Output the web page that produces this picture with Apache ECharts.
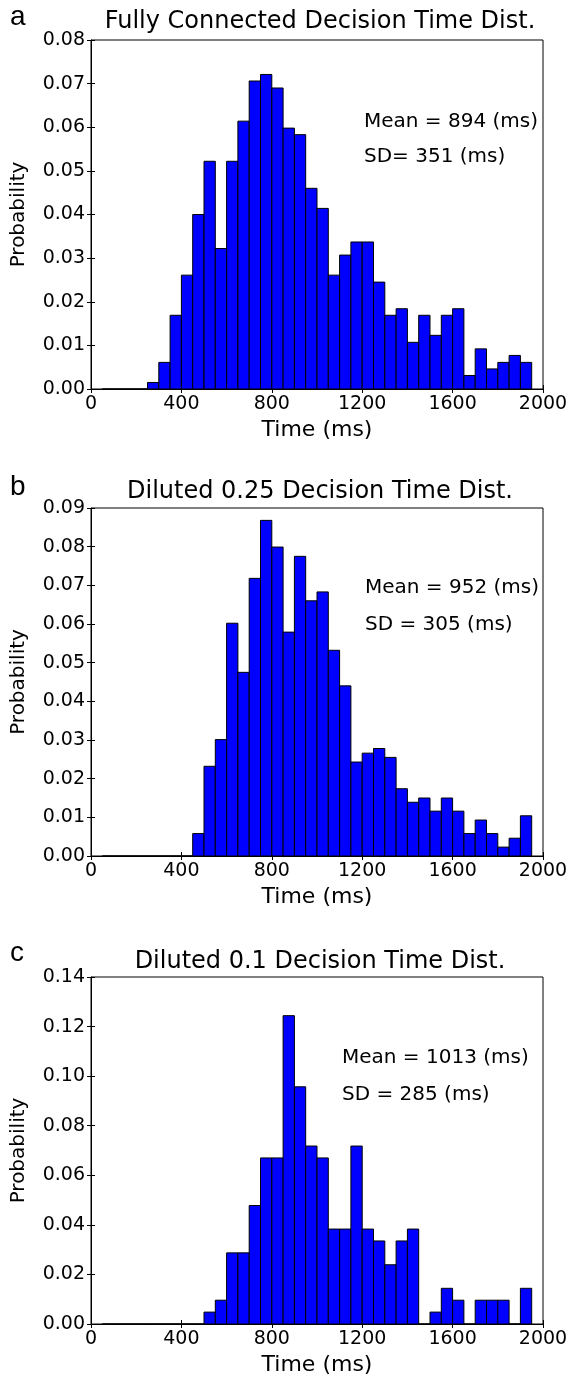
<!DOCTYPE html>
<html>
<head>
<meta charset="utf-8">
<script src="https://cdn.jsdelivr.net/npm/echarts@6/dist/echarts.min.js"></script>
<style>
html,body{margin:0;padding:0;background:#fff;}
#chart{width:572px;height:1377px;}
</style>
</head>
<body>
<div id="chart"></div>
<script>
// ---- data ----
const binStarts = [50,100,150,200,250,300,350,400,450,500,550,600,650,700,750,800,850,900,950,1000,
  1050,1100,1150,1200,1250,1300,1350,1400,1450,1500,1550,1600,1650,1700,1750,1800,1850,1900];
const binWidth = 50;

const probFullyConnected = [0,0,0,0,0.0015,0.0061,0.0169,0.0261,0.0400,0.0522,0.0322,0.0522,0.0614,0.0706,0.0721,0.0690,0.0598,0.0583,0.0460,0.0414,
  0.0261,0.0307,0.0337,0.0337,0.0245,0.0169,0.0184,0.0107,0.0169,0.0123,0.0169,0.0184,0.0031,0.0092,0.0046,0.0061,0.0077,0.0061];
const probDiluted025 = [0,0,0,0,0,0,0,0,0.0058,0.0232,0.0301,0.0602,0.0475,0.0718,0.0868,0.0799,0.0579,0.0775,0.0660,0.0683,
  0.0532,0.0440,0.0243,0.0266,0.0278,0.0255,0.0174,0.0139,0.0150,0.0116,0.0150,0.0116,0.0058,0.0093,0.0058,0.0023,0.0046,0.0104];
const probDiluted01 = [0,0,0,0,0,0,0,0,0,0.0048,0.0096,0.0287,0.0287,0.0478,0.0670,0.0670,0.1244,0.0957,0.0718,0.0670,
  0.0383,0.0383,0.0718,0.0383,0.0335,0.0239,0.0335,0.0383,0,0.0048,0.0144,0.0096,0,0.0096,0.0096,0.0096,0,0.0144];

const panelLetters = ['a','b','c'];
const panelTitles = ['Fully Connected Decision Time Dist.','Diluted 0.25 Decision Time Dist.','Diluted 0.1 Decision Time Dist.'];
const meanTexts = ['Mean = 894 (ms)','Mean = 952 (ms)','Mean = 1013 (ms)'];
const sdTexts = ['SD= 351 (ms)','SD = 305 (ms)','SD = 285 (ms)'];
const xTickRange = {min:0, max:2000, interval:400};
const yMax = [0.08, 0.09, 0.14];
const yInterval = [0.01, 0.01, 0.02];
const xName = 'Time (ms)';
const yName = 'Probability';

// ---- layout ----
const FONT = 'DejaVu Sans';
const grids = [
  {left:91, right:29, top:40, height:349},
  {left:91, right:29, top:508, height:348},
  {left:91, right:29, top:977, height:349}
];
const titleY = [22, 492, 962];
const letterY = [17, 487, 953];
const meanPos = [[364,122],[365,588],[342,1058]];
const sdPos = [[364,157],[365,625],[342,1095]];
const series = [probFullyConnected, probDiluted025, probDiluted01];

const xAxes = [], yAxes = [], seriesList = [], graphics = [];
grids.forEach((g, i) => {
  g.show = true; g.borderColor = '#000'; g.borderWidth = 1; g.backgroundColor = 'transparent';
  const tick = {show:true, inside:true, length:4, lineStyle:{color:'#000', width:1}};
  xAxes.push({
    type:'value', gridIndex:i, position:'bottom', min:xTickRange.min, max:xTickRange.max, interval:xTickRange.interval,
    axisLine:{show:true, lineStyle:{color:'#000', width:1}}, axisTick:tick, splitLine:{show:false},
    axisLabel:{color:'#000', fontSize:19, fontFamily:FONT, margin:6, showMaxLabel:true, showMinLabel:true, formatter:v => String(v)},
    name:xName, nameLocation:'middle', nameGap:30,
    nameTextStyle:{color:'#000', fontSize:22, fontFamily:FONT}
  });
  xAxes.push({
    type:'value', gridIndex:i, position:'top', min:xTickRange.min, max:xTickRange.max, interval:xTickRange.interval,
    axisLine:{show:false}, axisTick:tick, axisLabel:{show:false}, splitLine:{show:false}
  });
  yAxes.push({
    type:'value', gridIndex:i, position:'left', min:0, max:yMax[i], interval:yInterval[i],
    axisLine:{show:true, lineStyle:{color:'#000', width:1}}, axisTick:tick, splitLine:{show:false},
    axisLabel:{color:'#000', fontSize:19, fontFamily:FONT, margin:6, formatter:v => v.toFixed(2)},
    name:yName, nameLocation:'middle', nameGap:62, nameRotate:90,
    nameTextStyle:{color:'#000', fontSize:20, fontFamily:FONT}
  });
  yAxes.push({
    type:'value', gridIndex:i, position:'right', min:0, max:yMax[i], interval:yInterval[i],
    axisLine:{show:false}, axisTick:tick, axisLabel:{show:false}, splitLine:{show:false}
  });
  seriesList.push({
    type:'custom', xAxisIndex:i*2, yAxisIndex:i*2, clip:true,
    data: binStarts.map((b, k) => [b, b + binWidth, series[i][k]]),
    renderItem: (params, api) => {
      const p0 = api.coord([api.value(0), api.value(2)]);
      const p1 = api.coord([api.value(1), 0]);
      return {type:'rect', shape:{x:p0[0], y:p0[1], width:p1[0]-p0[0], height:p1[1]-p0[1]},
        style:{fill:'#0000ff', stroke:'#000', lineWidth:1}};
    }
  });
  graphics.push({type:'text', x:320, y:titleY[i], style:{text:panelTitles[i], fill:'#000', font:'24px "DejaVu Sans"', align:'center', verticalAlign:'middle'}});
  graphics.push({type:'text', x:10, y:letterY[i], style:{text:panelLetters[i], fill:'#000', font:'28px "Liberation Sans"', align:'left', verticalAlign:'middle'}});
  graphics.push({type:'text', x:meanPos[i][0], y:meanPos[i][1], style:{text:meanTexts[i], fill:'#000', font:'20px "DejaVu Sans"', align:'left', verticalAlign:'middle'}});
  graphics.push({type:'text', x:sdPos[i][0], y:sdPos[i][1], style:{text:sdTexts[i], fill:'#000', font:'20px "DejaVu Sans"', align:'left', verticalAlign:'middle'}});
});

const chart = echarts.init(document.getElementById('chart'), null, {renderer:'canvas'});
chart.setOption({
  animation:false,
  backgroundColor:'#fff',
  grid:grids, xAxis:xAxes, yAxis:yAxes, series:seriesList, graphic:graphics
});
</script>
</body>
</html>
